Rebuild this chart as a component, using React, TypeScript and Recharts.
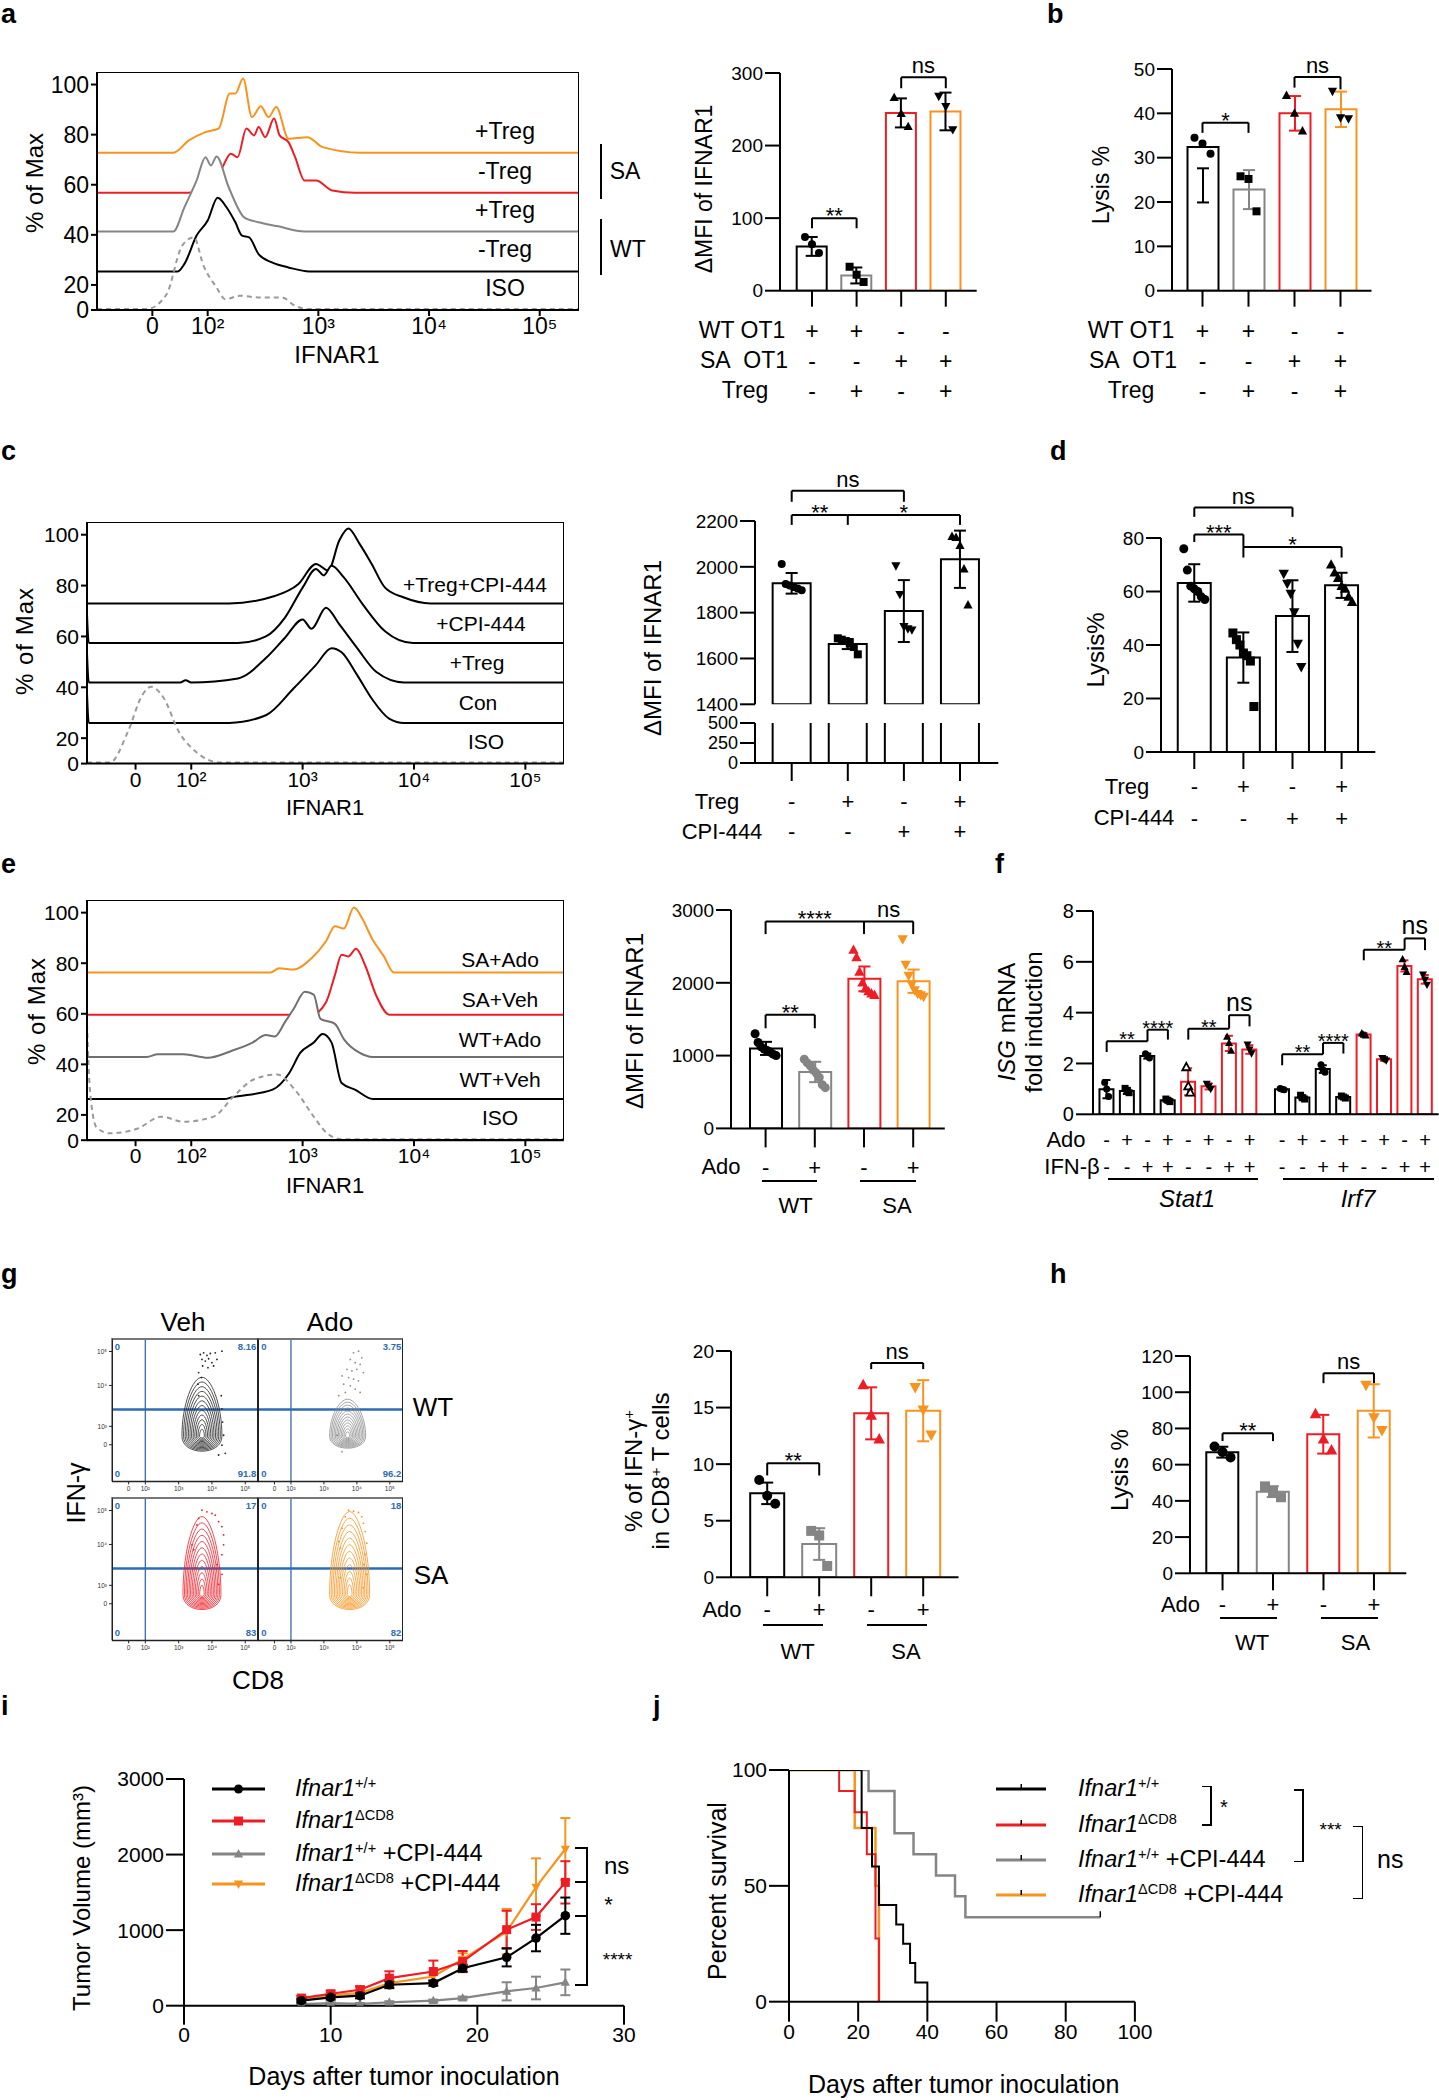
import React from "react";
import {
  ComposedChart,
  LineChart,
  ScatterChart,
  Line,
  Area,
  Bar,
  Cell,
  ErrorBar,
  Scatter,
  XAxis,
  YAxis,
  ReferenceLine,
} from "recharts";

const FONT = '"Liberation Sans", Arial, Helvetica, sans-serif';
const BLACK = "#000000";
const GRAY = "#858585";
const RED = "#ee1c25";
const ORANGE = "#f7931e";
const BLUE = "#2d6cb5";
const AX = { stroke: "#000", strokeWidth: 2 };

// ---------- a: IFNAR1 histograms (x in decades, y in offset % of max) ----------
const aSaTreg = [[1.0, 72.8], [1.69, 72.8], [1.83, 77.7], [1.98, 81], [2.1, 82.5], [2.2, 96.4], [2.25, 96.4], [2.32, 102.4], [2.4, 87], [2.48, 91.3], [2.55, 87], [2.62, 91], [2.73, 78.4], [2.9, 79], [3.04, 75], [3.38, 72.8], [5.36, 72.8]];
const aSaNoTreg = [[1.0, 56.8], [1.83, 56.8], [2.0, 60.5], [2.12, 66], [2.21, 72.4], [2.27, 71], [2.35, 82.4], [2.42, 79.7], [2.46, 83], [2.52, 79], [2.6, 86.4], [2.65, 79.7], [2.73, 77], [2.79, 71], [2.875, 61.7], [2.98, 61.7], [3.125, 57.7], [3.33, 56.8], [5.36, 56.8]];
const aWtTreg = [[1.0, 41.3], [1.69, 41.3], [1.79, 51], [1.9, 61.7], [1.98, 71], [2.03, 67.7], [2.08, 71.3], [2.19, 59], [2.33, 47], [2.46, 45], [2.625, 43.5], [2.875, 41.3], [5.36, 41.3]];
const aWtNoTreg = [[1.0, 25.4], [1.73, 25.4], [1.79, 28.4], [1.9, 39.7], [2.0, 45.7], [2.09, 54.8], [2.17, 51], [2.25, 45], [2.31, 39.7], [2.375, 39], [2.46, 32.3], [2.58, 29], [2.73, 27], [2.92, 25.4], [5.36, 25.4]];
const aIso = [[1.0, 10.4], [1.45, 10.4], [1.625, 16], [1.77, 35.7], [1.875, 39], [1.96, 28], [2.08, 19], [2.16, 14.3], [2.29, 15.7], [2.46, 15], [2.67, 15], [2.79, 11.7], [2.9, 10.4], [5.36, 10.4]];

// ---------- a/b bars ----------
const abRowWt = ["+", "+", "-", "-"];
const abRowSa = ["-", "-", "+", "+"];
const abRowTreg = ["-", "+", "-", "+"];
const aMfiMean = [61, 21, 245, 247];
const aMfiSd = [13, 11, 20, 26];
const aMfiPts = [[74, 64, 52], [33, 22, 12], [266, 244, 226], [268, 254, 222]];
const aMfiSig = [["c0", "c1", 100, 86, 86, "**"], ["c2", "c3", 294, 279, 279, "ns"]];
const bLysMean = [32.4, 22.8, 40, 40.9];
const bLysErr = [[12.5, -4.8], 4.4, 3.9, 4];
const bLysPts = [[34.5, 33.2, 30.9], [25.8, 25.2, 17.9], [44, 40, 36], [45, 39, 38.8]];
const bLysSig = [["c0", "c1", 37.9, 35.6, 35.6, "*"], ["c2", "c3", 48.2, 45.8, 45.4, "ns"]];

// ---------- c: histograms ----------
const cTregCpi = [[1.064, 73], [2.34, 73], [2.75, 75.9], [2.96, 80.5], [3.12, 88.5], [3.23, 85.9], [3.33, 97.8], [3.41, 102.4], [3.51, 96.5], [3.62, 88.5], [3.74, 79.2], [3.91, 75.3], [4.15, 73], [5.35, 73]];
const cCpi = [[1.064, 68.7], [1.08, 57.4], [2.42, 57.4], [2.67, 60], [2.84, 67.3], [3.0, 79.2], [3.12, 86.5], [3.19, 84], [3.26, 87.8], [3.37, 83.2], [3.54, 72.6], [3.74, 62], [3.99, 57.4], [5.35, 57.4]];
const cTreg = [[1.064, 53.4], [1.08, 41.9], [1.9, 41.9], [1.95, 42.8], [2.0, 41.9], [2.42, 43.5], [2.67, 51.5], [2.84, 59.4], [3.0, 66.7], [3.08, 63], [3.21, 71.3], [3.33, 64.7], [3.49, 55.4], [3.66, 46.1], [3.91, 41.9], [5.35, 41.9]];
const cCon = [[1.064, 37.6], [1.08, 26], [2.34, 26], [2.67, 29], [2.92, 39.6], [3.12, 48.8], [3.26, 55.4], [3.35, 53.8], [3.49, 44.8], [3.62, 35.6], [3.78, 27.6], [3.91, 26], [5.35, 26]];
const cIso = [[1.064, 10.4], [1.27, 10.4], [1.43, 22.4], [1.56, 36.9], [1.64, 40.2], [1.75, 36], [1.89, 22.4], [2.05, 14.4], [2.26, 10.4], [5.35, 10.4]];

// ---------- c/d bars ----------
const cdRowTreg = ["-", "+", "-", "+"];
const cdRowCpi = ["-", "-", "+", "+"];
const cMfiMean = [1928, 1663, 1807, 2033];
const cMfiSd = [45, 22, 135, 125];
const cMfiPts = [[2012, 1925, 1918, 1912, 1905, 1898], [1688, 1682, 1676, 1665, 1650, 1618], [2005, 1880, 1740, 1730, 1725], [2132, 2128, 2093, 1990, 1833]];
const cMfiSig = [["c0", "c2", 2332, 2284, 2284, "ns"], ["c0", "c1", 2226, 2183, 2183, "**"], ["c1", "c3", 2226, null, 2183, "*"]];
const dLysMean = [63.2, 35.3, 50.8, 62.3];
const dLysSd = [7, 9.4, 13.4, 4.7];
const dLysPts = [[76, 68, 62, 61, 60, 58, 57], [44.5, 42, 40, 37, 36, 34, 17], [66.7, 63, 59.2, 52.3, 40.5, 31.8], [70, 67, 65, 62, 61, 58, 56]];
const dLysSig = [["c0", "c2", 91.4, 87.9, 87.9, "ns"], ["c0", "c1", 81.3, 78.5, 72.7, "***"], ["c1", "c3", 76.6, null, 72.7, "*"]];

// ---------- e: histograms ----------
const eSaAdo = [[1.064, 76.3], [2.71, 76.3], [2.79, 78], [2.92, 77.5], [3.08, 82], [3.21, 88.7], [3.29, 94.6], [3.37, 93.7], [3.46, 102], [3.54, 97.3], [3.62, 90], [3.73, 82.7], [3.82, 76.3], [5.35, 76.3]];
const eSaVeh = [[1.064, 59.6], [3.08, 59.6], [3.21, 64.6], [3.29, 75.3], [3.35, 83.3], [3.41, 82.7], [3.48, 85.7], [3.56, 79.3], [3.66, 67.3], [3.78, 59.6], [5.35, 59.6]];
const eWtAdo = [[1.064, 42.9], [1.6, 42.9], [1.7, 44], [1.93, 44], [2.15, 42.6], [2.36, 45.3], [2.55, 48.6], [2.67, 51.6], [2.75, 51], [2.84, 56.6], [2.92, 62], [3.02, 68.7], [3.1, 67.6], [3.16, 58], [3.29, 56], [3.37, 50], [3.51, 44.6], [3.63, 42.9], [5.35, 42.9]];
const eWtVeh = [[1.064, 26.3], [2.3, 26.3], [2.36, 26.9], [2.73, 30], [2.88, 36.6], [2.98, 44.6], [3.1, 48.6], [3.18, 52], [3.26, 48.6], [3.35, 32.6], [3.47, 30], [3.63, 26.3], [5.35, 26.3]];
const eIso = [[1.064, 56], [1.09, 30], [1.15, 15], [1.27, 12.7], [1.52, 14.6], [1.73, 19.3], [1.93, 17.3], [2.2, 19.3], [2.38, 27.3], [2.56, 34], [2.77, 36], [2.93, 30], [3.1, 19.3], [3.22, 12.7], [3.35, 10.4], [5.35, 10.4]];

// ---------- e / g / h bars ----------
const rowAdo = ["-", "+", "-", "+"];
const eMfiMean = [1099, 775, 2054, 2022];
const eMfiSd = [90, 140, 170, 160];
const eMfiPts = [[1300, 1180, 1120, 1090, 1070, 1050, 1020, 1000], [950, 900, 860, 800, 760, 700, 600, 560], [2450, 2350, 2150, 2000, 1920, 1880, 1850, 1830], [2600, 2250, 2100, 1980, 1900, 1850, 1830, 1810]];
const eMfiSig = [["c0", "c2", 2843, 2669, 2669, "****"], ["c2", "c3", 2843, null, 2669, "ns"], ["c0", "c1", 1560, 1375, 1375, "**"]];

// ---------- f: ISG qPCR ----------
const fRowAdo = ["-", "+", "-", "+", "-", "+", "-", "+", "-", "+", "-", "+", "-", "+", "-", "+"];
const fRowIfn = ["-", "-", "+", "+", "-", "-", "+", "+", "-", "-", "+", "+", "-", "-", "+", "+"];
const fMean = [0.99, 0.92, 2.29, 0.55, 1.28, 1.1, 2.79, 2.55, 0.99, 0.66, 1.78, 0.68, 3.14, 2.17, 5.84, 5.31];
const fSd = [0.36, 0.12, 0.1, 0.06, 0.53, 0.12, 0.3, 0.17, 0.03, 0.08, 0.15, 0.05, 0.05, 0.06, 0.22, 0.17];
const fPts = [[1.25, 1.0, 0.7], [1.02, 0.92, 0.85], [2.38, 2.3, 2.22], [0.6, 0.55, 0.5], [1.85, 1.1, 0.85], [1.2, 1.1, 1.0], [3.05, 2.8, 2.5], [2.75, 2.55, 2.4], [1.02, 0.99, 0.97], [0.75, 0.65, 0.6], [1.95, 1.75, 1.65], [0.72, 0.68, 0.64], [3.18, 3.13, 3.1], [2.22, 2.17, 2.12], [6.1, 5.8, 5.6], [5.5, 5.3, 5.1]];
const fSig = [[0, 2, 2.87, 2.45, null, "**"], [2, 3, 3.33, 2.87, 2.94, "****"], [4, 6, 3.37, 2.94, null, "**"], [6, 7, 3.9, 3.37, 3.46, "ns"], [8.6, 10.6, 2.36, 1.93, null, "**"], [10.6, 11.6, 2.81, 2.36, 2.39, "****"], [12.6, 14.6, 6.48, 6.06, null, "**"], [14.6, 15.6, 6.92, 6.48, 6.46, "ns"]];

// ---------- g: IFN-γ contour plots (x = CD8 decade, y = IFN-γ decade) ----------
const gWtVehCore = [[3.7, 2.37]];
const gWtAdoCore = [[3.72, 2.37]];
const gSaVehCore = [[3.7, 2.39]];
const gSaAdoCore = [[3.78, 2.39]];
const gWtVehDots = [[3.65, 4.85], [3.75, 4.9], [3.85, 4.82], [3.95, 4.88], [4.1, 4.9], [4.3, 4.95], [3.7, 4.7], [3.8, 4.65], [3.9, 4.72], [4.0, 4.6], [4.15, 4.7], [3.72, 4.5], [3.88, 4.45], [4.05, 4.5], [3.6, 4.3], [3.68, 4.15], [3.58, 3.95], [4.28, 3.6], [4.3, 3.2], [4.32, 2.8], [4.35, 2.4], [4.3, 2.1], [4.4, 1.85], [4.2, 1.8], [3.6, 3.6]];
const gWtAdoDots = [[3.9, 4.9], [4.05, 4.95], [4.15, 4.75], [3.8, 4.7], [3.95, 4.6], [4.1, 4.55], [3.7, 4.4], [3.85, 4.35], [4.0, 4.4], [4.2, 4.3], [3.55, 4.2], [3.75, 4.15], [3.9, 4.1], [4.05, 4.05], [3.6, 3.95], [3.8, 3.9], [3.95, 3.8], [4.1, 3.7], [3.65, 3.7], [3.45, 3.6], [3.4, 2.4], [3.55, 1.9]];
const gSaVehDots = [[3.7, 4.95], [3.85, 4.9], [4.0, 4.85], [4.1, 4.8], [3.6, 4.7], [4.2, 4.6], [4.3, 4.45], [3.55, 4.5], [4.35, 4.2], [3.4, 3.9], [3.45, 3.75], [4.35, 3.9], [4.3, 3.6], [4.15, 3.3], [4.3, 3.0], [3.5, 3.2], [4.2, 2.7]];
const gSaAdoDots = [[3.75, 4.95], [3.9, 4.92], [4.05, 4.88], [4.15, 4.75], [3.65, 4.75], [4.2, 4.55], [3.55, 4.4], [4.25, 4.3], [3.45, 4.0], [4.3, 3.95], [3.5, 3.8], [4.25, 3.6], [4.2, 3.3], [4.3, 3.0], [3.5, 2.9], [4.2, 2.6]];
const gQuadWtVeh = ["0", "8.16", "0", "91.8"];
const gQuadWtAdo = ["0", "3.75", "0", "96.2"];
const gQuadSaVeh = ["0", "17", "0", "83"];
const gQuadSaAdo = ["0", "18", "0", "82"];

const gIfnMean = [7.42, 2.94, 14.49, 14.72];
const gIfnSd = [0.95, 1.4, 2.3, 2.7];
const gIfnPts = [[8.6, 7.2, 6.5], [4.1, 3.7, 1.0], [17.0, 14.3, 12.2], [16.8, 14.8, 12.6]];
const gIfnSig = [["c0", "c1", 10.09, 9.0, 9.0, "**"], ["c2", "c3", 18.95, 18.4, 18.4, "ns"]];
const hLysMean = [66.9, 45.1, 76.8, 89.7];
const hLysSd = [3, 3, 10.7, 14.7];
const hLysPts = [[70, 67, 64], [48, 45, 42], [88, 74, 68], [104, 86, 79]];
const hLysSig = [["c0", "c1", 77.3, 73, 73, "**"], ["c2", "c3", 110.5, 105, 105, "ns"]];

// ---------- i: tumour growth ----------
const iDays = [8, 10, 12, 14, 17, 19, 22, 24, 26];
const iWt = [66, 110, 132, 277, 299, 496, 640, 895, 1191];
const iWtErr = [25, 30, 35, 45, 35, 45, 120, 175, 240];
const iKo = [101, 158, 211, 365, 452, 584, 1006, 1173, 1632];
const iKoErr = [30, 40, 45, 90, 145, 140, 250, 170, 280];
const iWtCpi = [22, 35, 26, 44, 66, 101, 190, 234, 309];
const iWtCpiErr = [10, 10, 10, 15, 15, 20, 120, 150, 170];
const iKoCpi = [95, 140, 167, 299, 386, 615, 980, 1570, 2073];
const iKoCpiErr = [25, 30, 40, 50, 60, 80, 300, 380, 410];

// ---------- j: survival ----------
const jWtDay = [0, 21, 24, 26, 31, 33, 35, 36.5, 40];
const jWtPct = [100, 75, 58.3, 41.7, 33.3, 25, 16.7, 8.3, 0];
const jKoDay = [0, 14.5, 19, 22.5, 25, 26];
const jKoPct = [100, 90.9, 81.8, 63.6, 27.3, 0];
const jWtCpiDay = [0, 23, 30.5, 36, 42.5, 48, 51, 90];
const jWtCpiPct = [100, 90.9, 72.7, 63.6, 54.5, 45.5, 36.4, 36.4];
const jKoCpiDay = [0, 19, 25, 26];
const jKoCpiPct = [100, 75, 50, 0];

// ---------- helpers ----------
const decade = (v: number) =>
  v === 1.5 ? "0" : v === 2 ? "10²" : v === 3 ? "10³" : v === 4 ? "10⁴" : v === 5 ? "10⁵" : "";
const toUV = (arr: number[][]) => arr.map(([u, v]) => ({ u, v }));

function T({ x, y, s = 22, a = "middle", r, it, c = "#000", ls, w, children }: any) {
  const tx = a === "middle" ? "-50%" : a === "end" ? "-100%" : "0";
  return (
    <div
      style={{
        position: "absolute",
        left: x,
        top: y,
        transform: `translate(${tx}, -50%)${r ? ` rotate(${r}deg)` : ""}`,
        fontSize: s,
        lineHeight: 1.1,
        whiteSpace: "nowrap",
        fontStyle: it ? "italic" : "normal",
        fontWeight: w || "normal",
        letterSpacing: ls || 0,
        color: c,
        textAlign: "center",
      }}
    >
      {children}
    </div>
  );
}

function Ln({ x1, y1, x2, y2, w = 2, c = "#000" }: any) {
  const horiz = Math.abs(y2 - y1) < Math.abs(x2 - x1);
  return (
    <div
      style={{
        position: "absolute",
        left: horiz ? Math.min(x1, x2) : x1 - w / 2,
        top: horiz ? y1 - w / 2 : Math.min(y1, y2),
        width: horiz ? Math.abs(x2 - x1) : w,
        height: horiz ? w : Math.abs(y2 - y1),
        background: c,
      }}
    />
  );
}

function Letter({ x, y, children }: any) {
  return (
    <div style={{ position: "absolute", left: x, top: y, fontSize: 27, fontWeight: "bold", lineHeight: 1 }}>
      {children}
    </div>
  );
}

function Sup({ children }: any) {
  return <span style={{ fontSize: "0.62em", verticalAlign: "0.55em", lineHeight: 0 }}>{children}</span>;
}

function Mark({ cx, cy, kind, color, r }: any) {
  if (cx == null || cy == null || isNaN(cx) || isNaN(cy)) return <g />;
  if (kind === "circle") return <circle cx={cx} cy={cy} r={r} fill={color} />;
  if (kind === "square") return <rect x={cx - r} y={cy - r} width={2 * r} height={2 * r} fill={color} />;
  if (kind === "tri" || kind === "otri") {
    const p = `${cx},${cy - r * 1.25} ${cx - r * 1.15},${cy + r * 0.85} ${cx + r * 1.15},${cy + r * 0.85}`;
    return <polygon points={p} fill={kind === "otri" ? "#fff" : color} stroke={color} strokeWidth={kind === "otri" ? 1.8 : 0} />;
  }
  if (kind === "itri") {
    const p = `${cx},${cy + r * 1.25} ${cx - r * 1.15},${cy - r * 0.85} ${cx + r * 1.15},${cy - r * 0.85}`;
    return <polygon points={p} fill={color} />;
  }
  return <g />;
}

function sigLines(list: any[], fsStar = 22, fsNs = 22) {
  return list.flatMap((b: any, n: number) => {
    const [a, z, y, la, lz, t] = b;
    const ns = t === "ns";
    const out = [
      <ReferenceLine
        key={`s${n}`}
        segment={[{ x: a, y }, { x: z, y }]}
        stroke="#000"
        strokeWidth={2}
        ifOverflow="visible"
        label={{ value: t, position: "top", offset: ns ? 4 : -5, fontSize: ns ? fsNs : fsStar, fill: "#000" }}
      />,
    ];
    if (la != null)
      out.push(<ReferenceLine key={`a${n}`} segment={[{ x: a, y }, { x: a, y: la }]} stroke="#000" strokeWidth={2} ifOverflow="visible" />);
    if (lz != null)
      out.push(<ReferenceLine key={`z${n}`} segment={[{ x: z, y }, { x: z, y: lz }]} stroke="#000" strokeWidth={2} ifOverflow="visible" />);
    return out;
  });
}

function RowTick(props: any) {
  const { x, payload, rows, dys, axisY, fs, pos } = props;
  const v = payload && payload.value;
  const i = pos ? pos.indexOf(v) : Number(String(v).slice(1));
  return (
    <g>
      {rows.map((r: string[], k: number) => (
        <text key={k} x={x} y={axisY + dys[k]} textAnchor="middle" dominantBaseline="central" fontSize={fs} fill="#000">
          {r[i]}
        </text>
      ))}
    </g>
  );
}

// ---------- flow histogram ----------
function Hist({ box, filled, iso, xDom, fs }: any) {
  const YW = 70, PT = 10, PR = 10, XH = 45;
  return (
    <div style={{ position: "absolute", left: box.x - YW, top: box.y - PT }}>
      <ComposedChart width={YW + box.w + PR} height={PT + box.h + XH} margin={{ top: PT, right: PR, left: 0, bottom: 0 }}>
        <XAxis type="number" dataKey="u" domain={xDom} ticks={[1.5, 2, 3, 4, 5]} tickFormatter={decade} allowDataOverflow interval={0}
          height={XH} tickSize={6} tick={{ fontSize: fs, fill: "#000" }} axisLine={AX} tickLine={AX} />
        <YAxis type="number" domain={[10, 105]} ticks={[10, 20, 40, 60, 80, 100]} tickFormatter={(v: number) => (v === 10 ? "0" : String(v))}
          allowDataOverflow interval={0} width={YW} tickSize={6} tick={{ fontSize: fs, fill: "#000" }} axisLine={AX} tickLine={AX} />
        {filled.map((c: any, k: number) => (
          <Area key={k} data={toUV(c.pts)} dataKey="v" type="monotone" stroke={c.color} strokeWidth={2} fill="#fff" fillOpacity={1} isAnimationActive={false} dot={false} />
        ))}
        <Line data={toUV(iso)} dataKey="v" type="monotone" stroke="#9a9a9a" strokeWidth={2} strokeDasharray="5 4" dot={false} isAnimationActive={false} />
      </ComposedChart>
      <div style={{ position: "absolute", left: YW, top: PT, width: box.w, height: box.h, border: "1.5px solid #000", boxSizing: "border-box" }} />
    </div>
  );
}

// ---------- bar + dot plot ----------
function DotBar(p: any) {
  const YW = 90, PT = p.pt ?? 50, PR = 12;
  const XH = p.hideX ? 0 : 120;
  const MB = p.hideX ? 16 : 0;
  const numeric = !!p.xPos;
  const table = p.means.map((m: number, i: number) => ({ name: "c" + i, x: numeric ? p.xPos[i] : undefined, i, m, err: p.errs ? p.errs[i] : null }));
  const dots = (p.pts || []).flatMap((arr: number[], i: number) =>
    arr.map((v: number, k: number) => ({ name: "c" + i, x: numeric ? p.xPos[i] : undefined, i, v, k, n: arr.length }))
  );
  const errCols = p.errColors || p.colors;
  const cols = Array.from(new Set(errCols)) as string[];
  const axisY = PT + p.box.h;
  const tickFn = (t: any) => <RowTick {...t} rows={p.rows || []} dys={p.dys || []} axisY={axisY} fs={p.rowFs ?? 22} pos={numeric ? p.xPos : null} />;
  return (
    <div style={{ position: "absolute", left: p.box.x - YW, top: p.box.y - PT }}>
      <ComposedChart width={YW + p.box.w + PR} height={PT + p.box.h + XH + MB} data={table} margin={{ top: PT, right: PR, left: 0, bottom: MB }}>
        {numeric ? (
          <XAxis type="number" dataKey="x" domain={p.xDom} ticks={p.xPos} allowDataOverflow interval={0} height={XH}
            tickLine={false} axisLine={AX} tick={tickFn} />
        ) : (
          <XAxis dataKey="name" type="category" allowDuplicatedCategory={false} hide={p.hideX} padding={{ left: p.pad[0], right: p.pad[1] }}
            height={XH} interval={0} tickSize={p.xTick ?? 16} tickLine={AX} axisLine={AX} tick={tickFn} />
        )}
        <YAxis type="number" domain={p.domain} ticks={p.ticks} allowDataOverflow interval={0} width={YW} tickSize={p.yTick ?? 15}
          tick={{ fontSize: p.fs ?? 19, fill: "#000" }} axisLine={AX} tickLine={AX} />
        <Bar dataKey="m" barSize={p.barSize} fill="#fff" strokeWidth={2} isAnimationActive={false}>
          {table.map((r: any) => (
            <Cell key={r.name} stroke={p.colors[r.i]} />
          ))}
          {p.errs
            ? cols.map((c) => (
                <ErrorBar key={c} dataKey={(r: any) => (errCols[r.i] === c ? r.err : null)} stroke={c} strokeWidth={2} width={p.capW ?? 6} />
              ))
            : null}
        </Bar>
        {dots.length ? (
          <Scatter
            data={dots}
            dataKey="v"
            isAnimationActive={false}
            shape={(s: any) => (
              <Mark
                cx={s.cx + (s.payload.k - (s.payload.n - 1) / 2) * (p.spread ?? 6)}
                cy={s.cy}
                kind={p.marks[s.payload.i]}
                color={p.ptColors[s.payload.i]}
                r={p.markR ?? 4}
              />
            )}
          />
        ) : null}
        {sigLines(p.sig || [], p.starFs ?? 22, p.nsFs ?? 22)}
      </ComposedChart>
    </div>
  );
}

// ---------- g contour panels ----------
function Rings({ cx, cy, color, spec }: any) {
  if (cx == null || cy == null) return <g />;
  const [rx, rb, ht] = spec;
  const out = [];
  for (let k = 0; k < 12; k++) {
    const f = 1 - k * 0.08;
    const a = rx * f, b = rb * f, h = ht * f;
    const d = `M ${cx - a} ${cy} C ${cx - a} ${cy + b * 1.33} ${cx + a} ${cy + b * 1.33} ${cx + a} ${cy} ` +
      `C ${cx + a} ${cy - h * 0.55} ${cx + a * 0.45} ${cy - h} ${cx} ${cy - h} ` +
      `C ${cx - a * 0.45} ${cy - h} ${cx - a} ${cy - h * 0.55} ${cx - a} ${cy} Z`;
    out.push(<path key={k} d={d} fill="none" stroke={color} strokeWidth={0.8} />);
  }
  return <g>{out}</g>;
}

function Flow({ box, core, dots, color, ring, quad, showY }: any) {
  const YW = 26, PT = 2, PR = 2, XH = 16;
  const pts = dots.map(([x, y]: number[]) => ({ x, y }));
  const ctr = core.map(([x, y]: number[]) => ({ x, y }));
  const yLab = (v: number) => (v === 2.11 ? "0" : v === 2.67 ? "10³" : v === 3.91 ? "10⁴" : "10⁵");
  return (
    <div style={{ position: "absolute", left: box.x - YW, top: box.y - PT }}>
      <ScatterChart width={YW + box.w + PR} height={PT + box.h + XH} margin={{ top: PT, right: PR, left: 0, bottom: 0 }}>
        <XAxis type="number" dataKey="x" domain={[1.0, 5.4]} ticks={[1.5, 2, 3, 4, 5]} tickFormatter={decade} allowDataOverflow interval={0}
          height={XH} tickSize={3} tick={{ fontSize: 6.5, fill: "#333" }} axisLine={{ stroke: "#222", strokeWidth: 1.5 }} tickLine={{ stroke: "#222" }} />
        <YAxis type="number" dataKey="y" domain={[1.0, 5.35]} ticks={[2.11, 2.67, 3.91, 4.94]} tickFormatter={yLab}
          allowDataOverflow interval={0} width={YW} tickSize={3} tick={showY ? { fontSize: 6.5, fill: "#333" } : false}
          axisLine={{ stroke: "#222", strokeWidth: 1 }} tickLine={showY ? { stroke: "#222" } : false} />
        <ReferenceLine x={2.0} stroke={BLUE} strokeWidth={1.3} />
        <ReferenceLine y={3.18} stroke={BLUE} strokeWidth={2.6} />
        <Scatter data={ctr} isAnimationActive={false} shape={(s: any) => <Rings cx={s.cx} cy={s.cy} color={color} spec={ring} />} />
        <Scatter data={pts} isAnimationActive={false} shape={(s: any) => <circle cx={s.cx} cy={s.cy} r={0.9} fill={color} />} />
      </ScatterChart>
      <div style={{ position: "absolute", left: YW, top: PT, width: box.w, height: box.h, border: "1px solid #222", borderTop: "2.5px solid #777", boxSizing: "border-box" }} />
      <div style={{ position: "absolute", left: YW + 3, top: PT + 3, fontSize: 9.5, fontWeight: "bold", color: BLUE }}>{quad[0]}</div>
      <div style={{ position: "absolute", right: PR + 2, top: PT + 3, fontSize: 9.5, fontWeight: "bold", color: BLUE }}>{quad[1]}</div>
      <div style={{ position: "absolute", left: YW + 3, top: PT + box.h - 14, fontSize: 9.5, fontWeight: "bold", color: BLUE }}>{quad[2]}</div>
      <div style={{ position: "absolute", right: PR + 2, top: PT + box.h - 14, fontSize: 9.5, fontWeight: "bold", color: BLUE }}>{quad[3]}</div>
    </div>
  );
}

// ---------- legend rows ----------
function LegRow({ x1, x2, y, color, kind, tx, children }: any) {
  const w = x2 - x1;
  return (
    <>
      <svg style={{ position: "absolute", left: x1, top: y - 10 }} width={w} height={20}>
        <line x1={0} y1={10} x2={w} y2={10} stroke={color} strokeWidth={3} />
        {kind ? <Mark cx={w / 2} cy={10} kind={kind} color={color} r={kind === "tri" || kind === "itri" ? 4 : 4.5} /> : <line x1={w / 2} y1={5} x2={w / 2} y2={10} stroke="#000" strokeWidth={1.5} />}
      </svg>
      <T x={tx} y={y} a="start" s={23.5}>
        {children}
      </T>
    </>
  );
}

const Gene = ({ sup, cpi }: any) => (
  <span>
    <i>Ifnar1</i>
    <Sup>{sup}</Sup>
    {cpi ? " +CPI-444" : ""}
  </span>
);

export default function App() {
  const iTable = iDays.map((d, k) => ({
    d, wt: iWt[k], wtE: iWtErr[k], ko: iKo[k], koE: iKoErr[k], wc: iWtCpi[k], wcE: iWtCpiErr[k], kc: iKoCpi[k], kcE: iKoCpiErr[k],
  }));
  const surv = (ds: number[], ps: number[]) => ds.map((d, k) => ({ d, p: ps[k] }));
  const fPos = fMean.map((_, i) => (i < 8 ? i : i + 0.6));

  return (
    <div style={{ position: "absolute", left: 0, top: 0, width: 1439, height: 2100, overflow: "hidden", background: "#fff", fontFamily: FONT, color: "#000" }}>
      {/* panel letters */}
      <Letter x={1} y={1}>a</Letter>
      <Letter x={1047} y={1}>b</Letter>
      <Letter x={1} y={438}>c</Letter>
      <Letter x={1050} y={438}>d</Letter>
      <Letter x={1} y={851}>e</Letter>
      <Letter x={995} y={851}>f</Letter>
      <Letter x={1} y={1261}>g</Letter>
      <Letter x={1050} y={1261}>h</Letter>
      <Letter x={1} y={1693}>i</Letter>
      <Letter x={653} y={1693}>j</Letter>

      {/* ===== a histogram ===== */}
      <Hist
        box={{ x: 97, y: 72, w: 482, h: 238 }}
        xDom={[1.0, 5.355]}
        fs={23}
        filled={[
          { pts: aSaTreg, color: ORANGE },
          { pts: aSaNoTreg, color: RED },
          { pts: aWtTreg, color: GRAY },
          { pts: aWtNoTreg, color: BLACK },
        ]}
        iso={aIso}
      />
      <T x={505} y={132} s={23}>+Treg</T>
      <T x={505} y={172} s={23}>-Treg</T>
      <T x={505} y={211} s={23}>+Treg</T>
      <T x={505} y={250} s={23}>-Treg</T>
      <T x={505} y={289} s={23}>ISO</T>
      <Ln x1={601} y1={144} x2={601} y2={199} />
      <Ln x1={601} y1={219} x2={601} y2={275} />
      <T x={625} y={172} s={23}>SA</T>
      <T x={628} y={250} s={23}>WT</T>
      <T x={35} y={183} s={24} r={-90}>% of Max</T>
      <T x={337} y={355} s={24}>IFNAR1</T>

      {/* ===== a bars ===== */}
      <DotBar
        box={{ x: 780, y: 73.3, w: 196.7, h: 217.7 }}
        domain={[0, 300]} ticks={[0, 100, 200, 300]} pad={[9.7, 8.6]} barSize={30}
        means={aMfiMean} errs={aMfiSd} pts={aMfiPts}
        colors={[BLACK, GRAY, RED, ORANGE]} errColors={[BLACK, BLACK, BLACK, BLACK]} ptColors={[BLACK, BLACK, BLACK, BLACK]}
        marks={["circle", "square", "tri", "itri"]} spread={7}
        sig={aMfiSig} rows={[abRowWt, abRowSa, abRowTreg]} dys={[40, 70, 100]} rowFs={23}
      />
      <T x={705} y={189} s={23} r={-90}>ΔMFI of IFNAR1</T>
      <T x={742} y={331} s={23}>WT OT1</T>
      <T x={744} y={361} s={23}>SA&nbsp; OT1</T>
      <T x={745} y={391} s={23}>Treg</T>

      {/* ===== b bars ===== */}
      <DotBar
        box={{ x: 1171.5, y: 69.3, w: 199.5, h: 221.7 }}
        domain={[0, 50]} ticks={[0, 10, 20, 30, 40, 50]} pad={[7.5, 8]} barSize={31}
        means={bLysMean} errs={bLysErr} pts={bLysPts}
        colors={[BLACK, GRAY, RED, ORANGE]} errColors={[BLACK, GRAY, RED, ORANGE]} ptColors={[BLACK, BLACK, BLACK, BLACK]}
        marks={["circle", "square", "tri", "itri"]} spread={8}
        sig={bLysSig} rows={[abRowWt, abRowSa, abRowTreg]} dys={[40, 70, 100]} rowFs={23}
      />
      <T x={1102} y={185} s={23} r={-90}>Lysis %</T>
      <T x={1131} y={331} s={23}>WT OT1</T>
      <T x={1133} y={361} s={23}>SA&nbsp; OT1</T>
      <T x={1131} y={391} s={23}>Treg</T>

      {/* ===== c histogram ===== */}
      <Hist
        box={{ x: 87.1, y: 522.4, w: 476.8, h: 241.6 }}
        xDom={[1.064, 5.345]}
        fs={21}
        filled={[
          { pts: cTregCpi, color: BLACK },
          { pts: cCpi, color: BLACK },
          { pts: cTreg, color: BLACK },
          { pts: cCon, color: BLACK },
        ]}
        iso={cIso}
      />
      <T x={475} y={585} s={21}>+Treg+CPI-444</T>
      <T x={481} y={624} s={21}>+CPI-444</T>
      <T x={477} y={663} s={21}>+Treg</T>
      <T x={478} y={703} s={21}>Con</T>
      <T x={486} y={742} s={21}>ISO</T>
      <T x={25} y={641} s={24} r={-90} ls={1}>% of Max</T>
      <T x={325} y={808} s={22}>IFNAR1</T>

      {/* ===== c bars (broken axis) ===== */}
      <DotBar
        box={{ x: 755, y: 521, w: 243.3, h: 183.3 }} pt={60} hideX
        domain={[1400, 2200]} ticks={[1400, 1600, 1800, 2000, 2200]} pad={[8.65, 10.25]} barSize={38}
        means={cMfiMean} errs={cMfiSd} pts={cMfiPts}
        colors={[BLACK, BLACK, BLACK, BLACK]} ptColors={[BLACK, BLACK, BLACK, BLACK]}
        marks={["circle", "square", "itri", "tri"]} spread={4} markR={4}
        sig={cMfiSig}
      />
      <DotBar
        box={{ x: 755, y: 723.3, w: 243.3, h: 40 }} pt={10}
        domain={[0, 500]} ticks={[0, 250, 500]} pad={[8.65, 10.25]} barSize={38}
        means={cMfiMean} colors={[BLACK, BLACK, BLACK, BLACK]} fs={18} xTick={18}
        rows={[cdRowTreg, cdRowCpi]} dys={[38.4, 68.4]} rowFs={22}
      />
      <T x={653} y={648} s={24} r={-90}>ΔMFI of IFNAR1</T>
      <T x={717} y={802} s={22}>Treg</T>
      <T x={722} y={832} s={22}>CPI-444</T>

      {/* ===== d bars ===== */}
      <DotBar
        box={{ x: 1160.7, y: 537.7, w: 214.3, h: 214 }} pt={70}
        domain={[0, 80]} ticks={[0, 20, 40, 60, 80]} pad={[8.75, 9.15]} barSize={33}
        means={dLysMean} errs={dLysSd} pts={dLysPts}
        colors={[BLACK, BLACK, BLACK, BLACK]} ptColors={[BLACK, BLACK, BLACK, BLACK]}
        marks={["circle", "square", "itri", "tri"]} spread={3.5} markR={4.5} xTick={17}
        sig={dLysSig} rows={[cdRowTreg, cdRowCpi]} dys={[35, 66.6]} rowFs={22}
      />
      <T x={1096} y={650} s={24} r={-90}>Lysis%</T>
      <T x={1127} y={787} s={22}>Treg</T>
      <T x={1134} y={818} s={22}>CPI-444</T>

      {/* ===== e histogram ===== */}
      <Hist
        box={{ x: 87.1, y: 899.8, w: 476.8, h: 240.2 }}
        xDom={[1.064, 5.345]}
        fs={21}
        filled={[
          { pts: eSaAdo, color: ORANGE },
          { pts: eSaVeh, color: RED },
          { pts: eWtAdo, color: "#707070" },
          { pts: eWtVeh, color: BLACK },
        ]}
        iso={eIso}
      />
      <T x={500} y={960} s={21}>SA+Ado</T>
      <T x={500} y={1000} s={21}>SA+Veh</T>
      <T x={500} y={1040} s={21}>WT+Ado</T>
      <T x={500} y={1080} s={21}>WT+Veh</T>
      <T x={500} y={1118} s={21}>ISO</T>
      <T x={37} y={1011} s={24} r={-90} ls={1}>% of Max</T>
      <T x={325} y={1186} s={22}>IFNAR1</T>

      {/* ===== e bars ===== */}
      <DotBar
        box={{ x: 731.2, y: 909.9, w: 213.8, h: 218.4 }}
        domain={[0, 3000]} ticks={[0, 1000, 2000, 3000]} pad={[10, 7]} barSize={32}
        means={eMfiMean} errs={eMfiSd} pts={eMfiPts}
        colors={[BLACK, GRAY, RED, ORANGE]} errColors={[BLACK, GRAY, RED, ORANGE]} ptColors={[BLACK, GRAY, RED, ORANGE]}
        marks={["circle", "circle", "tri", "itri"]} spread={3} markR={4.5} xTick={19}
        sig={eMfiSig} rows={[rowAdo]} dys={[39.3]} rowFs={22}
      />
      <T x={635} y={1021} s={24} r={-90}>ΔMFI of IFNAR1</T>
      <T x={721} y={1167} s={22}>Ado</T>
      <Ln x1={762} y1={1181} x2={816.5} y2={1181} />
      <Ln x1={860} y1={1181} x2={916} y2={1181} />
      <T x={795.6} y={1206} s={22}>WT</T>
      <T x={897} y={1206} s={22}>SA</T>

      {/* ===== f bars ===== */}
      <DotBar
        box={{ x: 1093.3, y: 910.7, w: 345.7, h: 203.3 }} pt={20}
        xPos={fPos} xDom={[-0.67, 16.27]}
        domain={[0, 8]} ticks={[0, 2, 4, 6, 8]} barSize={14} yTick={17} fs={20}
        means={fMean} errs={fSd} pts={fPts}
        colors={[BLACK, BLACK, BLACK, BLACK, RED, RED, RED, RED, BLACK, BLACK, BLACK, BLACK, RED, RED, RED, RED]}
        ptColors={fMean.map(() => BLACK)}
        marks={["circle", "square", "circle", "square", "otri", "itri", "tri", "itri", "circle", "square", "circle", "square", "tri", "itri", "tri", "itri"]}
        spread={2} markR={3.5} capW={4}
        sig={fSig} starFs={20} nsFs={25}
        rows={[fRowAdo, fRowIfn]} dys={[26, 52.7]} rowFs={20}
      />
      <T x={1007} y={1022} s={24} r={-90}><i>ISG</i> mRNA</T>
      <T x={1034} y={1022} s={24} r={-90}>fold induction</T>
      <T x={1066} y={1140} s={22}>Ado</T>
      <T x={1072} y={1167} s={22}>IFN-β</T>
      <Ln x1={1108} y1={1179.3} x2={1258} y2={1179.3} />
      <Ln x1={1283} y1={1179.3} x2={1434} y2={1179.3} />
      <T x={1187} y={1199} s={24} it>Stat1</T>
      <T x={1358} y={1199} s={24} it>Irf7</T>

      {/* ===== g contour plots ===== */}
      <Flow box={{ x: 111.7, y: 1338.3, w: 146.6, h: 143.4 }} core={gWtVehCore} dots={gWtVehDots} color="#222" ring={[20, 15, 59]} quad={gQuadWtVeh} showY />
      <Flow box={{ x: 258.3, y: 1338.3, w: 145, h: 143.4 }} core={gWtAdoCore} dots={gWtAdoDots} color="#8c8c8c" ring={[18, 12, 37]} quad={gQuadWtAdo} />
      <Flow box={{ x: 111.7, y: 1497.3, w: 146.6, h: 143.4 }} core={gSaVehCore} dots={gSaVehDots} color={RED} ring={[19, 15, 78]} quad={gQuadSaVeh} showY />
      <Flow box={{ x: 258.3, y: 1497.3, w: 145, h: 143.4 }} core={gSaAdoCore} dots={gSaAdoDots} color={ORANGE} ring={[20, 15, 83]} quad={gQuadSaAdo} />
      <T x={183} y={1322} s={26}>Veh</T>
      <T x={330} y={1322} s={26}>Ado</T>
      <T x={433} y={1407} s={26}>WT</T>
      <T x={431} y={1575} s={26}>SA</T>
      <T x={77} y={1493} s={25} r={-90}>IFN-γ</T>
      <T x={258} y={1680} s={26}>CD8</T>

      {/* ===== g bars ===== */}
      <DotBar
        box={{ x: 731.2, y: 1351, w: 227.5, h: 226.3 }}
        domain={[0, 20]} ticks={[0, 5, 10, 15, 20]} pad={[10.2, 9.3]} barSize={34}
        means={gIfnMean} errs={gIfnSd} pts={gIfnPts}
        colors={[BLACK, GRAY, RED, ORANGE]} errColors={[BLACK, GRAY, RED, ORANGE]} ptColors={[BLACK, GRAY, RED, ORANGE]}
        marks={["circle", "square", "tri", "itri"]} spread={8} markR={5} xTick={19}
        sig={gIfnSig} rows={[rowAdo]} dys={[32.7]} rowFs={22}
      />
      <T x={633.5} y={1471} s={24} r={-90}>% of IFN-γ<Sup>+</Sup></T>
      <T x={661.3} y={1471} s={24} r={-90}>in CD8<Sup>+</Sup> T cells</T>
      <T x={722} y={1610} s={22}>Ado</T>
      <Ln x1={763.3} y1={1625} x2={823} y2={1625} />
      <Ln x1={867.2} y1={1625} x2={927} y2={1625} />
      <T x={797.6} y={1652} s={22}>WT</T>
      <T x={906} y={1652} s={22}>SA</T>

      {/* ===== h bars ===== */}
      <DotBar
        box={{ x: 1189.9, y: 1356, w: 216.3, h: 217.3 }}
        domain={[0, 120]} ticks={[0, 20, 40, 60, 80, 100, 120]} pad={[7.3, 7.1]} barSize={32}
        means={hLysMean} errs={hLysSd} pts={hLysPts}
        colors={[BLACK, GRAY, RED, ORANGE]} errColors={[BLACK, GRAY, RED, ORANGE]} ptColors={[BLACK, GRAY, RED, ORANGE]}
        marks={["circle", "square", "tri", "itri"]} spread={8} markR={5} xTick={17}
        sig={hLysSig} rows={[rowAdo]} dys={[31.7]} rowFs={22}
      />
      <T x={1120} y={1470} s={24} r={-90}>Lysis %</T>
      <T x={1180.5} y={1605} s={22}>Ado</T>
      <Ln x1={1220.3} y1={1618.3} x2={1277} y2={1618.3} />
      <Ln x1={1320.7} y1={1618.3} x2={1378.4} y2={1618.3} />
      <T x={1252} y={1643} s={22}>WT</T>
      <T x={1355.5} y={1643} s={22}>SA</T>

      {/* ===== i tumour growth ===== */}
      <div style={{ position: "absolute", left: 184.3 - 80, top: 1779.3 - 20 }}>
        <LineChart width={80 + 440 + 14} height={20 + 226.7 + 60} data={iTable} margin={{ top: 20, right: 14, left: 0, bottom: 0 }}>
          <XAxis type="number" dataKey="d" domain={[0, 30]} ticks={[0, 10, 20, 30]} interval={0} height={60} tickSize={19}
            tick={{ fontSize: 21, fill: "#000" }} axisLine={AX} tickLine={AX} />
          <YAxis type="number" domain={[0, 3000]} ticks={[0, 1000, 2000, 3000]} allowDataOverflow interval={0} width={80} tickSize={18}
            tick={{ fontSize: 21, fill: "#000" }} axisLine={AX} tickLine={AX} />
          <Line dataKey="wc" stroke={GRAY} strokeWidth={2.2} isAnimationActive={false} dot={(s: any) => <Mark key={s.index} cx={s.cx} cy={s.cy} kind="tri" color={GRAY} r={4} />}>
            <ErrorBar dataKey="wcE" stroke={GRAY} strokeWidth={2} width={5} />
          </Line>
          <Line dataKey="kc" stroke={ORANGE} strokeWidth={2.2} isAnimationActive={false} dot={(s: any) => <Mark key={s.index} cx={s.cx} cy={s.cy} kind="itri" color={ORANGE} r={4} />}>
            <ErrorBar dataKey="kcE" stroke={ORANGE} strokeWidth={2} width={5} />
          </Line>
          <Line dataKey="ko" stroke={RED} strokeWidth={2.2} isAnimationActive={false} dot={(s: any) => <Mark key={s.index} cx={s.cx} cy={s.cy} kind="square" color={RED} r={4.5} />}>
            <ErrorBar dataKey="koE" stroke={RED} strokeWidth={2} width={5} />
          </Line>
          <Line dataKey="wt" stroke={BLACK} strokeWidth={2.2} isAnimationActive={false} dot={(s: any) => <Mark key={s.index} cx={s.cx} cy={s.cy} kind="circle" color={BLACK} r={4.8} />}>
            <ErrorBar dataKey="wtE" stroke={BLACK} strokeWidth={2} width={5} />
          </Line>
        </LineChart>
      </div>
      <LegRow x1={212} x2={265} y={1789} color={BLACK} kind="circle" tx={295}><Gene sup="+/+" /></LegRow>
      <LegRow x1={212} x2={265} y={1821} color={RED} kind="square" tx={295}><Gene sup="ΔCD8" /></LegRow>
      <LegRow x1={212} x2={265} y={1854} color={GRAY} kind="tri" tx={295}><Gene sup="+/+" cpi /></LegRow>
      <LegRow x1={212} x2={265} y={1884} color={ORANGE} kind="itri" tx={295}><Gene sup="ΔCD8" cpi /></LegRow>
      <Ln x1={587} y1={1848} x2={587} y2={1985} />
      <Ln x1={575} y1={1848} x2={588} y2={1848} />
      <Ln x1={575} y1={1882} x2={588} y2={1882} />
      <Ln x1={575} y1={1916} x2={588} y2={1916} />
      <Ln x1={575} y1={1985} x2={588} y2={1985} />
      <T x={616.6} y={1866} s={24}>ns</T>
      <T x={608.6} y={1905} s={22}>*</T>
      <T x={617.6} y={1960} s={19}>****</T>
      <T x={82} y={1898} s={24} r={-90}>Tumor Volume (mm³)</T>
      <T x={404} y={2077} s={25}>Days after tumor inoculation</T>

      {/* ===== j survival ===== */}
      <div style={{ position: "absolute", left: 789 - 80, top: 1770 - 20 }}>
        <LineChart width={80 + 345.9 + 34} height={20 + 231.7 + 60} margin={{ top: 20, right: 34, left: 0, bottom: 0 }}>
          <XAxis type="number" dataKey="d" domain={[0, 100]} ticks={[0, 20, 40, 60, 80, 100]} interval={0} height={60} tickSize={20}
            tick={{ fontSize: 21, fill: "#000" }} axisLine={AX} tickLine={AX} />
          <YAxis type="number" domain={[0, 100]} ticks={[0, 50, 100]} allowDataOverflow interval={0} width={80} tickSize={20}
            tick={{ fontSize: 21, fill: "#000" }} axisLine={AX} tickLine={AX} />
          <Line data={surv(jWtCpiDay, jWtCpiPct)} dataKey="p" type="stepAfter" stroke={GRAY} strokeWidth={2.5} isAnimationActive={false}
            dot={(s: any) => (s.index === jWtCpiDay.length - 1 ? <line key={s.index} x1={s.cx} y1={s.cy - 6} x2={s.cx} y2={s.cy} stroke={BLACK} strokeWidth={1.5} /> : <g key={s.index} />)} />
          <Line data={surv(jKoCpiDay, jKoCpiPct)} dataKey="p" type="stepAfter" stroke={ORANGE} strokeWidth={2.5} dot={false} isAnimationActive={false} />
          <Line data={surv(jKoDay, jKoPct)} dataKey="p" type="stepAfter" stroke={RED} strokeWidth={2} dot={false} isAnimationActive={false} />
          <Line data={surv(jWtDay, jWtPct)} dataKey="p" type="stepAfter" stroke={BLACK} strokeWidth={2} dot={false} isAnimationActive={false} />
        </LineChart>
      </div>
      <LegRow x1={995.5} x2={1046} y={1789} color={BLACK} tx={1078}><Gene sup="+/+" /></LegRow>
      <LegRow x1={995.5} x2={1046} y={1825} color={RED} tx={1078}><Gene sup="ΔCD8" /></LegRow>
      <LegRow x1={995.5} x2={1046} y={1860} color={GRAY} tx={1078}><Gene sup="+/+" cpi /></LegRow>
      <LegRow x1={995.5} x2={1046} y={1895} color={ORANGE} tx={1078}><Gene sup="ΔCD8" cpi /></LegRow>
      <Ln x1={1211} y1={1786.7} x2={1211} y2={1825} w={1.5} />
      <Ln x1={1202.4} y1={1786.7} x2={1211.7} y2={1786.7} w={1.5} />
      <Ln x1={1202.4} y1={1825} x2={1211.7} y2={1825} w={1.5} />
      <T x={1224} y={1807} s={20}>*</T>
      <Ln x1={1302.8} y1={1790} x2={1302.8} y2={1861.7} w={1.5} />
      <Ln x1={1293.5} y1={1790} x2={1303.5} y2={1790} w={1.5} />
      <Ln x1={1293.5} y1={1861.7} x2={1303.5} y2={1861.7} w={1.5} />
      <T x={1330.6} y={1830} s={19}>***</T>
      <Ln x1={1362.5} y1={1826.7} x2={1362.5} y2={1898.3} w={1.5} />
      <Ln x1={1353.2} y1={1826.7} x2={1363.2} y2={1826.7} w={1.5} />
      <Ln x1={1353.2} y1={1898.3} x2={1363.2} y2={1898.3} w={1.5} />
      <T x={1390.3} y={1860} s={25}>ns</T>
      <T x={718} y={1891} s={25} r={-90}>Percent survival</T>
      <T x={963.7} y={2085} s={25}>Days after tumor inoculation</T>
    </div>
  );
}
